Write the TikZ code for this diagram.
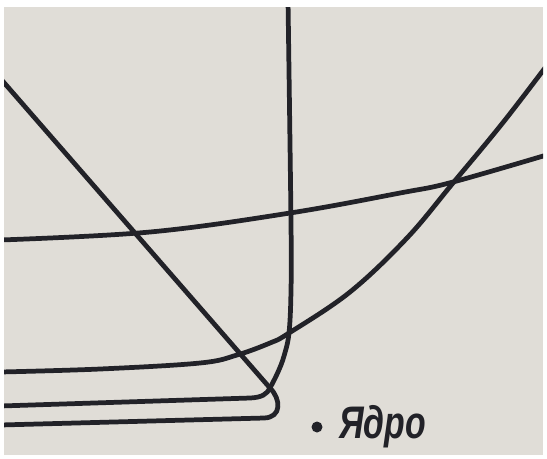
\documentclass[tikz,border=0pt]{standalone}
\usepackage{fontspec}
\newfontfamily\labelfont{Liberation Sans}
\definecolor{paper}{RGB}{224,221,215}
\definecolor{ink}{RGB}{34,34,40}
\tikzset{
  path/.style={line width=2.7pt, ink, line cap=round, line join=round},
}
\begin{document}
\begin{tikzpicture}[x=0.02cm, y=-0.02cm]
  % Frame (white margin round the photo)
  \useasboundingbox (0,0) rectangle (547,458);
  \fill[white] (0,0) rectangle (547,458);
  \fill[paper] (4,7) rectangle (543,455);

  \begin{scope}
    \clip (4,7) rectangle (543,455);

    % Far particle: barely deflected
    \draw[path] plot[smooth, tension=0.6]
      coordinates {(0,240) (150,232) (290,213) (400,193) (453,182) (560,151)};

    % Deflected upwards to the right
    \draw[path] plot[smooth, tension=0.6]
      coordinates {(0,372) (100,369) (200,363) (237,355) (270,343) (289,333)
                   (350,292) (407,238) (453,183) (505,120) (560,48)};

    % Turned through about a right angle
    \draw[path] (0,406) -- (250,398) .. controls (262,397.5) and (267,394) .. (270,388)
      plot[smooth, tension=0.6]
      coordinates {(270,388) (278,372) (284,356) (289,333) (291,290) (291,223) (288,0)};

    % Thrown back past the nucleus
    \draw[path] (0,425) -- (264,418) .. controls (282,417.5) and (281,399) .. (270,388)
      -- (0,78);
  \end{scope}

  % Nucleus
  \fill[ink] (317,427) circle (5.5);
  \node[anchor=base west, inner sep=0pt, xscale=0.74, ink,
        font=\labelfont\bfseries\itshape\fontsize{26}{26}\selectfont] (nucleus) at (339,438) {Ядро};
\end{tikzpicture}
\end{document}
